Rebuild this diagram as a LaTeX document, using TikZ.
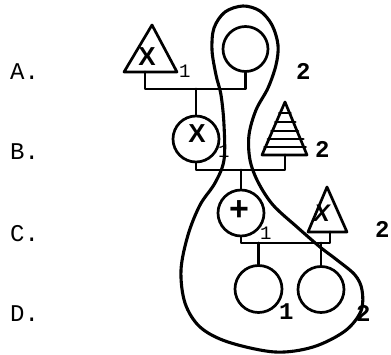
\documentclass[tikz,border=0pt]{standalone}
\usepackage{fontspec}
\newfontfamily\tw{Liberation Mono}
\newfontfamily\hs{Liberation Sans}
\begin{document}
\begin{tikzpicture}[x=1pt,y=-1pt,
  ln/.style={line width=2.7pt, line cap=round, line join=round},
  circ/.style={circle, draw, line width=2.7pt, inner sep=0pt},
  rowlbl/.style={font=\tw\fontsize{24}{24}\selectfont, inner sep=0pt, anchor=base west},
  lbl/.style={font=\tw\bfseries\fontsize{24}{24}\selectfont, inner sep=0pt, anchor=base west},
  sm/.style={font=\tw\fontsize{19}{19}\selectfont, inner sep=0pt, anchor=base west},
  xmk/.style={font=\hs\bfseries\fontsize{26}{26}\selectfont, inner sep=0pt},
  loopline/.style={line width=3.1pt, line join=round}]
\useasboundingbox (0,0) rectangle (391,355);
% row labels
\node[rowlbl] (la) at (10,80) {A.};
\node[rowlbl] (lb) at (10,160) {B.};
\node[rowlbl] (lc) at (10,242) {C.};
\node[rowlbl] (ld) at (10,322) {D.};
% row A
\draw[ln] (124,72) -- (152,25) -- (177,72) -- cycle;
\coordinate (tAb) at (145,72);
\node[xmk] (xA) at (147,57) {X};
\node[sm] (nA1) at (179,78) {1};
\node[circ, minimum size=45pt] (cA2) at (245.5,49) {};
\node[lbl] (nA2) at (296,80) {2};
\coordinate (jA) at (196,89);
\draw[ln] (tAb) |- (jA) -| (cA2.south);
% row B
\node[circ, minimum size=46pt] (cB) at (196,139) {};
\node[xmk] (xB) at (197,134) {X};
\draw[ln] (jA) -- (cB.north);
\node[sm] (nB1) at (218,158) {1};
\draw[ln] (262,155) -- (285,102) -- (307,155) -- cycle;
\foreach \yy/\ex in {113/1, 122/2, 131/1, 139/3, 147/2}{
  \draw[ln] ({285-23*(\yy-102)/53-1},\yy) -- ({285+22*(\yy-102)/53+\ex},\yy);
}
\coordinate (tBb) at (285,155);
\node[lbl] (nB2) at (315,158) {2};
\coordinate (jB) at (241,170);
\draw[ln] (cB.south) |- (jB) -| (tBb);
% row C
\node[circ, minimum size=46pt] (cC) at (241,213) {};
\node[font=\hs\bfseries\fontsize{34}{34}\selectfont, inner sep=0pt] (pC) at (239,211) {+};
\draw[ln] (jB) -- (cC.north);
\node[sm] (nC1) at (260,240) {1};
\draw[ln] (308,232) -- (327,187) -- (347,232) -- cycle;
\node[xmk, font=\hs\bfseries\itshape\fontsize{24}{24}\selectfont] (xC) at (322,213) {X};
\coordinate (tCb) at (330,232);
\node[lbl] (nC2) at (375,238) {2};
\coordinate (jC1) at (258.5,243);
\coordinate (jC2) at (321,243);
\draw[ln] (cC.south) |- (jC2);
\draw[ln] (tCb) |- (jC2);
% row D
\node[circ, minimum size=47pt] (cD1) at (258.5,289) {};
\node[circ, minimum size=46pt] (cD2) at (321,289.5) {};
\draw[ln] (jC1) -- (cD1.north);
\draw[ln] (jC2) -- (cD2.north);
\node[lbl] (nD1) at (279,320) {1};
\node[lbl] (nD2) at (356,322) {2};
% loop
\draw[loopline] plot[smooth cycle, tension=0.55] coordinates {
 (243,6) (225,12) (214,28) (212,50) (216,75) (221,95) (224,125) (224,160)
 (215,183) (200,205) (188,235) (181,270) (185,303) (200,327) (228,342)
 (275,352) (313,347) (345,331) (361,311) (362,290) (355,275) (337,260)
 (320,247) (297,227) (273,205) (258,182) (250,160) (249,135) (256,110)
 (268,88) (276,65) (278,45) (272,25) (260,11)};
\end{tikzpicture}
\end{document}
